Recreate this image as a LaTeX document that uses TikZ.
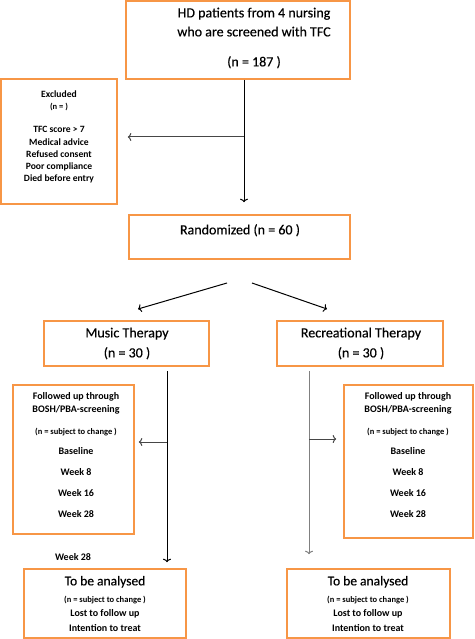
\documentclass[tikz,border=0pt]{standalone}
\usepackage{fontspec}
\setmainfont{Carlito}
\newfontfamily\regheavy[FakeBold=0.35]{Carlito}
\usetikzlibrary{arrows.meta}
\definecolor{boxorange}{RGB}{247,150,70}
\definecolor{lineg}{RGB}{70,70,70}
\definecolor{lineg2}{RGB}{128,128,128}
\begin{document}
\begin{tikzpicture}[x=1pt,y=-1pt,
  box/.style={draw=boxorange, line width=1.6pt, inner sep=0pt},
  txt/.style={inner sep=0pt, anchor=mid, align=center},
  big/.style={txt, font=\regheavy\fontsize{14}{16}\selectfont},
  ana/.style={txt, font=\regheavy\fontsize{13.5}{16}\selectfont},
  sb/.style={txt, font=\fontsize{10}{12}\selectfont\bfseries},
  xb/.style={txt, font=\fontsize{9.6}{12}\selectfont\bfseries},
  nb/.style={txt, font=\fontsize{8.5}{10}\selectfont\bfseries},
  conn/.style={line width=1pt, -{To[length=3.5pt,width=8pt]}}]
\useasboundingbox (0,0) rectangle (474,639);
% boxes
\node[box, minimum width=224pt, minimum height=78pt] (top) at (238,40) {};
\node[box, minimum width=116pt, minimum height=125pt] (excl) at (59,141.5) {};
\node[box, minimum width=221pt, minimum height=44pt] (rand) at (239.5,237) {};
\node[box, minimum width=165pt, minimum height=45pt] (music) at (126.5,343.5) {};
\node[box, minimum width=166pt, minimum height=45pt] (recr) at (360,343.5) {};
\node[box, minimum width=121pt, minimum height=149pt] (folL) at (73.5,459.5) {};
\node[box, minimum width=129pt, minimum height=153pt] (folR) at (408.5,461.5) {};
\node[box, minimum width=162pt, minimum height=69pt] (anaL) at (105,603.5) {};
\node[box, minimum width=163pt, minimum height=69pt] (anaR) at (368.5,603.5) {};
% texts
\node[big] (t1) at (254,15) {HD patients from 4 nursing};
\node[big] (t2) at (254,34) {who are screened with TFC};
\node[big] (t3) at (254,64) {(n = 187 )};
\node[xb] (e1) at (59,95) {Excluded};
\node[nb] (e2) at (59,107) {(n = )};
\node[xb] (e3) at (59,130) {TFC score > 7};
\node[xb] (e4) at (59,143) {Medical advice};
\node[xb] (e5) at (59,155) {Refused consent};
\node[xb] (e6) at (59,167) {Poor compliance};
\node[xb] (e7) at (59,179) {Died before entry};
\node[big] (r1) at (240,232) {Randomized (n = 60 )};
\node[big] (m1) at (127,335) {Music Therapy};
\node[big] (m2) at (127,355) {(n = 30 )};
\node[big] (c1) at (361,335) {Recreational Therapy};
\node[big] (c2) at (361,355) {(n = 30 )};
\foreach \cx/\nm in {76/L,408/R}{
  \node[sb] (f1\nm) at (\cx,397) {Followed up through};
  \node[sb] (f2\nm) at (\cx,410) {BOSH/PBA-screening};
  \node[nb] (f3\nm) at (\cx,432) {(n = subject to change )};
  \node[sb] (f4\nm) at (\cx,452) {Baseline};
  \node[sb] (f5\nm) at (\cx,473) {Week 8};
  \node[sb] (f6\nm) at (\cx,494) {Week 16};
  \node[sb] (f7\nm) at (\cx,515) {Week 28};
}
\node[sb] (w28) at (73,558) {Week 28};
\foreach \cx/\nm in {105/L,368/R}{
  \node[ana] (a1\nm) at (\cx,583) {To be analysed};
  \node[nb] (a2\nm) at (\cx,600) {(n = subject to change )};
  \node[sb] (a3\nm) at (\cx,614) {Lost to follow up};
  \node[sb] (a4\nm) at (\cx,629) {Intention to treat};
}
% connectors
\coordinate (j1) at (244,137);
\draw[conn] ([xshift=6pt]top.south) -- ([xshift=4.5pt,yshift=12pt]rand.north);
\draw[conn, lineg, shorten >=10pt] (j1) -- (j1 -| excl.east);
\coordinate (dl1) at (227,283);
\coordinate (dl2) at (138,309);
\coordinate (dr1) at (252,283);
\coordinate (dr2) at (327,309);
\draw[conn] (dl1) -- (dl2);
\draw[conn] (dr1) -- (dr2);
\coordinate (lv1) at (167,371);
\draw[conn, shorten >=6pt] (lv1) -- (lv1 |- anaL.north);
\coordinate (lj) at (167,442);
\draw[conn, lineg, shorten >=4pt] (lj) -- (lj -| folL.east);
\coordinate (rv1) at (309,371);
\draw[conn, lineg2, shorten >=14pt] (rv1) -- (rv1 |- anaR.north);
\coordinate (rj) at (309,439);
\draw[conn, lineg, shorten >=7pt] (rj) -- (rj -| folR.west);
\end{tikzpicture}
\end{document}
